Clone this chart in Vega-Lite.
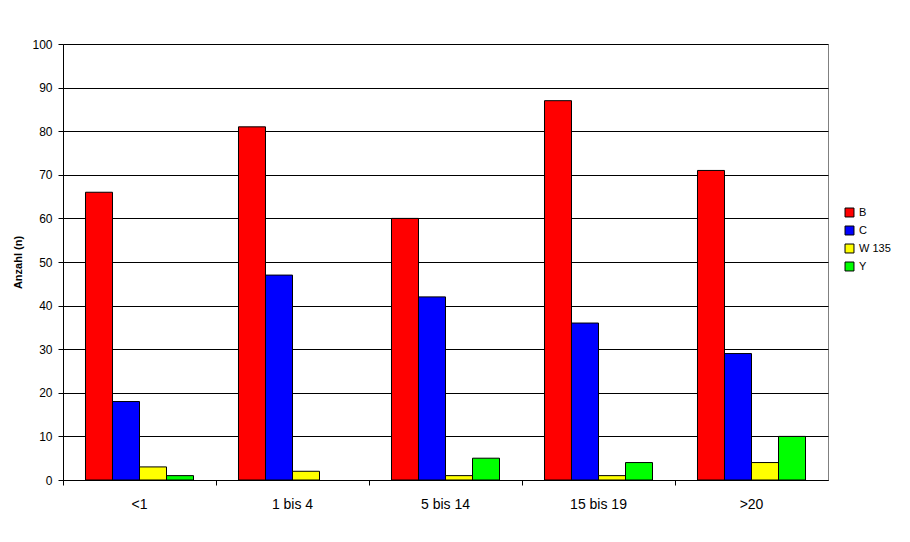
{
  "$schema": "https://vega.github.io/schema/vega-lite/v6.json",
  "width": 765,
  "height": 436,
  "autosize": "none",
  "padding": {"left": 63, "top": 44, "right": 82, "bottom": 62},
  "background": "#ffffff",
  "config": {
    "font": "Liberation Sans",
    "view": {"stroke": "#808080", "strokeWidth": 1}
  },
  "data": {
    "values": [
      {"gruppe": "<1", "serie": "B", "wert": 66},
      {"gruppe": "<1", "serie": "C", "wert": 18},
      {"gruppe": "<1", "serie": "W 135", "wert": 3},
      {"gruppe": "<1", "serie": "Y", "wert": 1},
      {"gruppe": "1 bis 4", "serie": "B", "wert": 81},
      {"gruppe": "1 bis 4", "serie": "C", "wert": 47},
      {"gruppe": "1 bis 4", "serie": "W 135", "wert": 2},
      {"gruppe": "1 bis 4", "serie": "Y", "wert": 0},
      {"gruppe": "5 bis 14", "serie": "B", "wert": 60},
      {"gruppe": "5 bis 14", "serie": "C", "wert": 42},
      {"gruppe": "5 bis 14", "serie": "W 135", "wert": 1},
      {"gruppe": "5 bis 14", "serie": "Y", "wert": 5},
      {"gruppe": "15 bis 19", "serie": "B", "wert": 87},
      {"gruppe": "15 bis 19", "serie": "C", "wert": 36},
      {"gruppe": "15 bis 19", "serie": "W 135", "wert": 1},
      {"gruppe": "15 bis 19", "serie": "Y", "wert": 4},
      {"gruppe": ">20", "serie": "B", "wert": 71},
      {"gruppe": ">20", "serie": "C", "wert": 29},
      {"gruppe": ">20", "serie": "W 135", "wert": 4},
      {"gruppe": ">20", "serie": "Y", "wert": 10}
    ]
  },
  "mark": {"type": "bar", "stroke": "#000000"},
  "encoding": {
    "x": {
      "field": "gruppe",
      "type": "nominal",
      "sort": ["<1", "1 bis 4", "5 bis 14", "15 bis 19", ">20"],
      "scale": {"paddingInner": 0.294, "paddingOuter": 0.147},
      "axis": {
        "title": null,
        "labelAngle": 0,
        "labelFontSize": 14,
        "labelColor": "#000000",
        "labelPadding": 12,
        "domainColor": "#000000",
        "tickColor": "#000000",
        "tickSize": 5,
        "bandPosition": -0.204,
        "grid": false
      }
    },
    "xOffset": {
      "field": "serie",
      "type": "nominal",
      "sort": ["B", "C", "W 135", "Y"],
      "scale": {"paddingInner": 0, "paddingOuter": 0}
    },
    "y": {
      "field": "wert",
      "type": "quantitative",
      "scale": {"domain": [0, 100], "nice": false},
      "axis": {
        "title": "Anzahl (n)",
        "titleFontSize": 11,
        "titleFontWeight": "bold",
        "titleColor": "#000000",
        "titlePadding": 8,
        "values": [0, 10, 20, 30, 40, 50, 60, 70, 80, 90, 100],
        "labelFontSize": 12,
        "labelColor": "#000000",
        "labelPadding": 6,
        "domainColor": "#000000",
        "tickColor": "#000000",
        "tickSize": 5,
        "grid": true,
        "gridColor": "#000000",
        "gridOpacity": 1
      }
    },
    "strokeWidth": {
      "condition": {"test": "datum.wert == 0", "value": 0},
      "value": 1
    },
    "color": {
      "field": "serie",
      "type": "nominal",
      "sort": ["B", "C", "W 135", "Y"],
      "scale": {
        "domain": ["B", "C", "W 135", "Y"],
        "range": ["#ff0000", "#0000ff", "#ffff00", "#00ff00"]
      },
      "legend": {
        "title": null,
        "orient": "none",
        "legendX": 781,
        "legendY": 163,
        "symbolType": "square",
        "symbolSize": 80,
        "symbolStrokeColor": "#000000",
        "symbolStrokeWidth": 1,
        "labelFontSize": 11,
        "labelColor": "#000000",
        "rowPadding": 5,
        "symbolOpacity": 1
      }
    }
  }
}
